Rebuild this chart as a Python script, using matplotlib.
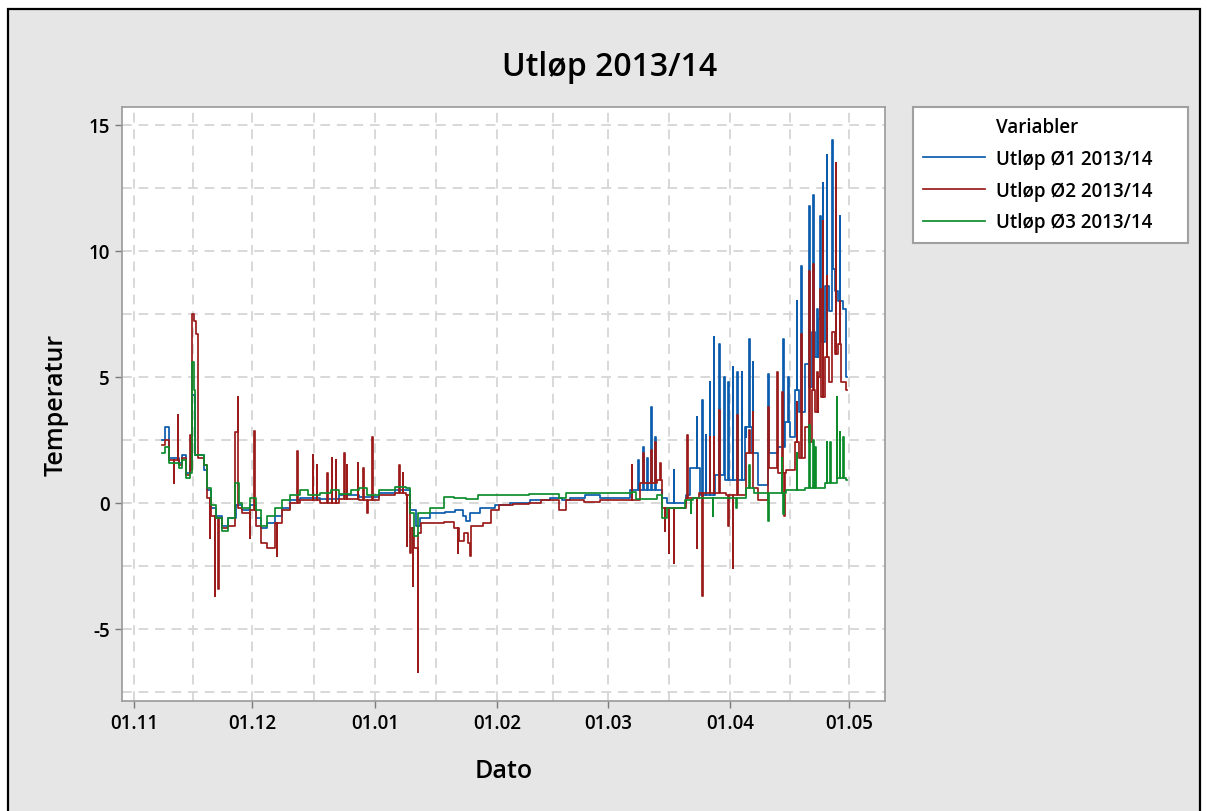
import numpy as np
import matplotlib
matplotlib.use("Agg")
import matplotlib.pyplot as plt
import matplotlib.dates as mdates
from matplotlib.patches import Rectangle
from matplotlib.lines import Line2D
from matplotlib.ticker import FixedLocator, MultipleLocator
from datetime import datetime

plt.rcParams['font.family'] = ['Open Sans', 'DejaVu Sans']
plt.rcParams['axes.unicode_minus'] = False

title = "Utløp 2013/14"
legend_title = "Variabler"
series_names = ["Utløp Ø1 2013/14", "Utløp Ø2 2013/14", "Utløp Ø3 2013/14"]
month_ticks = ["2013-11-01", "2013-12-01", "2014-01-01", "2014-02-01",
               "2014-03-01", "2014-04-01", "2014-05-01"]
y_ticks = [15, 10, 5, 0, -5]
end_day = 180.6

# ---- Ø1 (blue): step levels (days since 01.11.2013, temperature) ----
o1_days = [7.0, 7.8, 9.0, 11.5, 12.3, 13.2, 14.2, 14.8, 15.6, 17.8, 18.6, 19.6, 20.8, 22.2,
           23.8, 25.8, 27.5, 29.5, 30.8, 32.3, 33.8, 35.6, 37.4, 39.5, 42.0, 47.0, 52.0, 57.0,
           62.0, 66.0, 68.9, 69.8, 71.3, 72.4, 75.0, 78.7, 81.3, 83.2, 84.0, 85.0, 87.6, 91.4,
           95.2, 100.3, 105.3, 108.4, 110.4, 114.2, 118.0, 125.6, 133.7, 135.0, 139.7, 140.8,
           143.3, 147.0, 149.6, 154.7, 156.5, 158.0, 160.5, 163.0, 164.8, 166.2, 167.3, 168.4,
           169.9, 170.8, 171.6, 172.4, 173.2, 174.0, 175.0, 175.9, 176.7, 177.5, 178.2,
           179.5, 180.2]
o1_vals = [2.5, 3.0, 1.8, 1.6, 1.9, 1.2, 1.5, 4.3, 1.9, 1.3, 0.5, -0.2, -0.5, -0.9,
           -0.6, -0.1, -0.3, -0.1, -0.6, -1.0, -0.8, -0.5, -0.2, 0.1, 0.2, 0.15, 0.3, 0.25,
           0.4, 0.5, 0.5, -0.3, -0.9, -0.6, -0.4, -0.35, -0.3, -0.5, -0.7, -0.4, -0.2, -0.1,
           0.0, 0.1, 0.2, 0.1, 0.2, 0.3, 0.2, 0.5, 0.2, 0.0, 0.3, 1.4,
           0.3, 1.1, 0.9, 3.0, 2.0, 0.7, 2.0, 2.2, 3.2, 2.6, 4.5, 3.6,
           5.5, 4.6, 6.8, 5.8, 7.3, 6.4, 8.6, 7.6, 9.3, 8.4, 8.0,
           7.7, 5.0]
o1_spike_days = [127.6, 128.9, 129.9, 130.9, 131.9, 136.7, 142.5, 143.8, 144.8, 145.8, 146.8,
                 148.1, 149.4, 150.4, 151.6, 152.7, 153.9, 154.9, 155.7, 156.7, 160.5, 164.3,
                 165.6, 167.8, 168.9, 170.9, 171.9, 172.9, 173.7, 174.4, 175.4, 176.7, 178.7]
o1_spike_vals = [1.7, 2.2, 1.8, 3.8, 2.6, 1.3, 3.4, 4.1, 2.7, 4.8, 6.6,
                 6.3, 5.0, 4.8, 5.4, 5.2, 5.2, 2.6, 6.5, 5.6, 5.1, 6.5,
                 5.0, 8.0, 9.4, 11.8, 12.2, 7.7, 11.4, 12.7, 13.8, 14.4, 11.4]

# ---- Ø2 (red) ----
o2_days = [7.0, 7.8, 9.0, 11.5, 12.3, 13.2, 14.2, 14.8, 15.3, 15.8, 16.2, 17.8, 18.6, 19.6,
           20.8, 22.2, 23.8, 25.6, 26.4, 27.5, 29.5, 30.8, 32.3, 33.8, 35.6, 37.4, 39.5, 42.0,
           47.0, 52.0, 57.0, 62.0, 66.0, 68.9, 69.8, 71.0, 72.0, 72.6, 75.0, 78.5, 81.0, 82.2,
           83.5, 84.5, 85.3, 88.5, 90.5, 92.5, 96.0, 100.0, 103.0, 107.5, 109.5, 114.0, 118.0,
           128.0, 132.5, 133.7, 139.7, 143.0, 150.0, 155.0, 156.8, 158.0, 160.5, 163.0, 165.0,
           167.3, 168.4, 169.9, 170.8, 171.6, 172.4, 173.2, 174.0, 175.0, 175.9, 176.7,
           177.5, 178.2, 179.0, 180.2]
o2_vals = [2.3, 2.5, 1.7, 1.5, 1.8, 1.1, 1.3, 7.5, 7.2, 6.7, 1.8, 1.5, 0.2, -0.5,
           -0.6, -1.0, -0.9, 2.8, -0.2, -0.4, -0.3, -0.9, -1.6, -1.8, -0.8, -0.3, 0.0, 0.1,
           0.0, 0.15, 0.1, 0.3, 0.4, 0.3, -1.0, -1.8, -1.2, -0.8, -0.8, -0.75, -1.0, -1.5,
           -1.2, -1.6, -0.9, -0.8, -0.3, -0.1, -0.05, 0.0, 0.1, -0.3, 0.1, 0.05, 0.1,
           0.8, 0.9, -0.2, 0.2, 0.4, 0.3, 2.0, 0.6, 0.1, 1.4, 1.2, 1.3,
           2.4, 1.8, 3.0, 2.4, 4.5, 3.6, 5.0, 4.2, 5.8, 4.8, 6.8,
           5.9, 6.3, 4.8, 4.5]
o2_spike_days = [10.1, 11.1, 14.2, 19.2, 20.5, 21.3, 26.3, 29.4, 30.4, 36.2, 41.3, 45.3, 46.3,
                 48.9, 50.1, 51.1, 53.2, 53.9, 56.7, 58.0, 59.0, 60.3, 67.1, 68.1, 69.1, 69.9,
                 70.6, 71.9, 82.0, 85.1, 126.0, 128.9, 130.9, 131.9, 133.2, 134.4, 135.4,
                 136.7, 140.0, 142.5, 143.8, 145.8, 146.8, 148.1, 150.4, 151.6, 152.7, 154.9,
                 155.7, 156.7, 160.5, 162.8, 164.1, 164.6, 167.8, 168.9, 170.9, 171.9, 172.9,
                 173.7, 174.4, 175.4, 177.7, 178.7]
o2_spike_vals = [0.8, 3.5, 2.7, -1.4, -3.7, -3.4, 4.2, -1.4, 2.85, -2.1, 2.06, 1.9, 1.5,
                 1.2, 1.8, 1.7, 2.0, 1.5, 1.6, 1.4, -0.4, 2.6, 1.5, 1.2, -1.7, -2.0,
                 -3.3, -6.7, -2.0, -2.1, 1.5, 2.0, 2.1, 2.4, 1.6, -1.1, -2.0,
                 -2.4, 2.7, -1.8, -3.7, 2.6, 2.6, 3.7, -0.9, -2.6, 3.5, 2.0,
                 2.9, 3.6, 3.8, 5.2, 4.4, -0.5, 4.0, 6.7, 9.2, 9.5, 5.2,
                 8.5, 11.2, 9.0, 13.5, 8.0]

# ---- Ø3 (green) ----
o3_days = [7.0, 7.8, 9.0, 11.5, 12.3, 13.2, 14.2, 14.8, 15.2, 15.6, 17.8, 18.6, 19.6, 20.8,
           22.2, 23.8, 25.6, 26.6, 27.5, 29.5, 30.8, 32.3, 33.8, 35.6, 37.4, 39.5, 42.0, 44.0,
           47.0, 50.0, 52.0, 55.0, 57.0, 59.0, 62.0, 66.0, 68.9, 69.8, 71.0, 72.0, 75.0, 78.5,
           81.0, 84.0, 87.0, 92.0, 100.0, 107.5, 109.5, 118.0, 126.0, 127.0, 132.5, 133.7,
           135.0, 139.5, 141.5, 150.0, 155.0, 157.0, 165.0, 170.0, 175.0, 178.0, 180.2]
o3_vals = [2.0, 2.2, 1.6, 1.4, 1.7, 1.0, 1.2, 5.6, 4.5, 1.9, 1.5, 0.6, -0.1, -0.6,
           -1.1, -0.6, 0.8, 0.0, -0.2, 0.2, -0.3, -0.9, -0.5, -0.2, 0.1, 0.3, 0.5, 0.3,
           0.4, 0.5, 0.35, 0.5, 0.6, 0.3, 0.5, 0.65, 0.6, -0.4, -1.3, -0.4, -0.2, 0.25,
           0.2, 0.15, 0.3, 0.3, 0.35, 0.2, 0.4, 0.4, 0.45, 0.15, 0.3, -0.6,
           -0.2, 0.1, 0.2, 0.2, 0.6, 0.4, 0.5, 0.6, 0.8, 1.0, 0.9]
o3_spike_days = [141.0, 146.5, 152.5, 155.7, 160.5, 164.0, 164.4, 167.8, 170.9, 171.9, 172.4,
                 175.4, 176.2, 177.9, 178.7, 179.5]
o3_spike_vals = [-0.4, -0.5, -0.2, 1.5, -0.7, 1.8, -0.45, 2.0, 3.1, 2.5, 2.2,
                 2.4, 2.4, 4.2, 2.8, 2.6]

colors = ['#0b5cad', '#9b1b1b', '#0d8c2c']


def build(bd, bv, sd, sv):
    bd = np.asarray(bd, float)
    bv = np.asarray(bv, float)
    pts = list(zip(bd, bv))
    w = 0.14
    for d, v in zip(sd, sv):
        i = max(np.searchsorted(bd, d + w, side='right') - 1, 0)
        pts.append((d, v))
        pts.append((d + w, bv[i]))
    pts.sort(key=lambda p: p[0])
    pts.append((end_day, pts[-1][1]))
    arr = np.array(pts)
    start = mdates.date2num(datetime(2013, 11, 1))
    return arr[:, 0] + start, arr[:, 1]


fig = plt.figure(figsize=(12.07, 8.12), dpi=100)
fig.patch.set_facecolor('white')
fig.patches.append(Rectangle((8 / 1207, -0.01), 1192 / 1207, 1 - 10 / 812 + 0.01,
                             transform=fig.transFigure, facecolor='#e6e6e6',
                             edgecolor='black', linewidth=1.6, zorder=-10))

ax = fig.add_axes([122 / 1207, 1 - 702 / 812, (885 - 122) / 1207, (702 - 108) / 812])
ax.set_facecolor('white')

data = [build(o1_days, o1_vals, o1_spike_days, o1_spike_vals),
        build(o2_days, o2_vals, o2_spike_days, o2_spike_vals),
        build(o3_days, o3_vals, o3_spike_days, o3_spike_vals)]
handles = [Line2D([], [], color='none')]
for (x, y), c, name in zip(data, colors, series_names):
    ln, = ax.plot(x, y, drawstyle='steps-post', color=c, lw=1.25, label=name)
    handles.append(ln)

mt = [mdates.date2num(datetime.strptime(s, "%Y-%m-%d")) for s in month_ticks]
mids = [(a + b) / 2 for a, b in zip(mt[:-1], mt[1:])]
ax.set_xlim(mdates.date2num(datetime(2013, 10, 29)), mdates.date2num(datetime(2014, 5, 10, 3)))
ax.set_ylim(-7.86, 15.71)
ax.xaxis.set_major_locator(FixedLocator(mt))
ax.xaxis.set_minor_locator(FixedLocator(mids))
ax.xaxis.set_major_formatter(mdates.DateFormatter('%d.%m'))
ax.yaxis.set_major_locator(FixedLocator(y_ticks))
ax.yaxis.set_minor_locator(MultipleLocator(2.5))

grid_kw = dict(color='#d8d8d8', linestyle=(0, (5, 3.5)), linewidth=1.4)
ax.grid(True, which='both', **grid_kw)
ax.set_axisbelow(True)

ax.tick_params(which='major', direction='out', length=5, width=1, color='#7a7a7a',
               labelsize=13.5, labelcolor='black', pad=4)
ax.tick_params(which='minor', length=0)
for lab in ax.get_xticklabels() + ax.get_yticklabels():
    lab.set_fontweight('semibold')
for s in ax.spines.values():
    s.set_color('#9a9a9a')
    s.set_linewidth(1.2)

ax.set_xlabel('Dato', fontsize=18, fontweight='semibold', labelpad=18)
ax.set_ylabel('Temperatur', fontsize=18, fontweight='semibold', labelpad=14)
fig.text(610 / 1207, 1 - 68 / 812, title, fontsize=23, fontweight='semibold',
         ha='center', va='center')

leg = ax.legend(handles, [legend_title] + series_names, loc='upper left',
                bbox_to_anchor=(913 / 1207, 1 - 236 / 812, 275 / 1207, 128 / 812),
                bbox_transform=fig.transFigure, borderaxespad=0, mode='expand',
                fontsize=13.5, frameon=True, fancybox=False, framealpha=1,
                edgecolor='#a0a0a0', handlelength=3.3, handletextpad=0.55,
                borderpad=0.55, labelspacing=0.62)
leg.get_frame().set_linewidth(1.5)
for t in leg.get_texts():
    t.set_fontweight('semibold')

fig.savefig('out.png', dpi=100, facecolor=fig.get_facecolor())
